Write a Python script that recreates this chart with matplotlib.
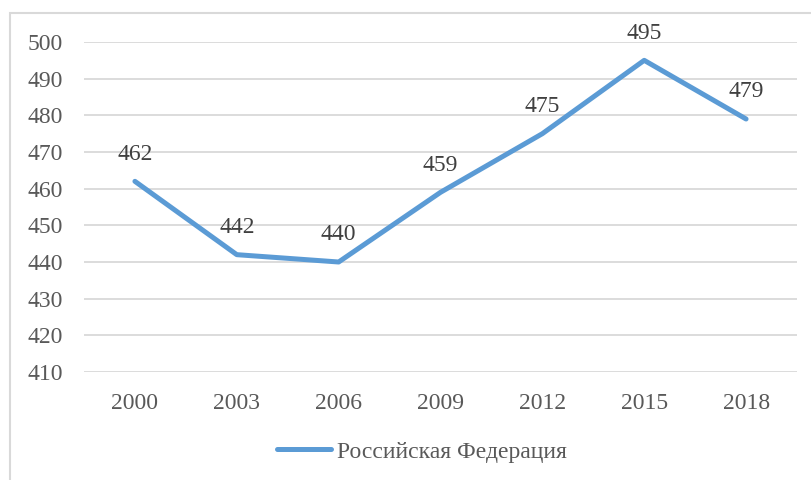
import matplotlib.pyplot as plt
from matplotlib.patches import Rectangle

years = ["2000", "2003", "2006", "2009", "2012", "2015", "2018"]
scores = [462, 442, 440, 459, 475, 495, 479]
series_name = "Российская Федерация"
y_ticks = [410, 420, 430, 440, 450, 460, 470, 480, 490, 500]

plt.rcParams["font.family"] = ["Liberation Serif", "DejaVu Serif"]

fig = plt.figure(figsize=(8.12, 4.8), dpi=100)
fig.patches.append(Rectangle((10 / 812, -0.1), 1.0, 1 - 13 / 480 + 0.1,
                             transform=fig.transFigure, fill=False,
                             edgecolor="#D9D9D9", linewidth=1.5))

ax = fig.add_axes([84 / 812, 1 - 372 / 480, (797 - 84) / 812, (372 - 42) / 480])
x = list(range(len(years)))
line, = ax.plot(x, scores, color="#5B9BD5", linewidth=3.6,
                solid_capstyle="round", solid_joinstyle="round", label=series_name)

for xi, v in zip(x, scores):
    ax.annotate(str(v), (xi, v), xytext=(0, 12), textcoords="offset points",
                ha="center", va="bottom", fontsize=17, color="#404040")

ax.set_xlim(-0.5, len(years) - 0.5)
ax.set_ylim(410, 500)
ax.set_yticks(y_ticks)
ax.set_xticks(x)
ax.set_xticklabels(years)
ax.tick_params(axis="both", length=0, labelsize=17, labelcolor="#595959")
ax.tick_params(axis="y", pad=15)
ax.tick_params(axis="x", pad=15)
ax.grid(axis="y", color="#D9D9D9", linewidth=1.3)
ax.set_axisbelow(True)
for s in ax.spines.values():
    s.set_visible(False)

fig.legend(handles=[line], loc="center", bbox_to_anchor=(422 / 812, 1 - 452 / 480),
           frameon=False, fontsize=17, labelcolor="#595959",
           handlelength=2.3, handletextpad=0.25)

fig.savefig("out.png", dpi=100)
